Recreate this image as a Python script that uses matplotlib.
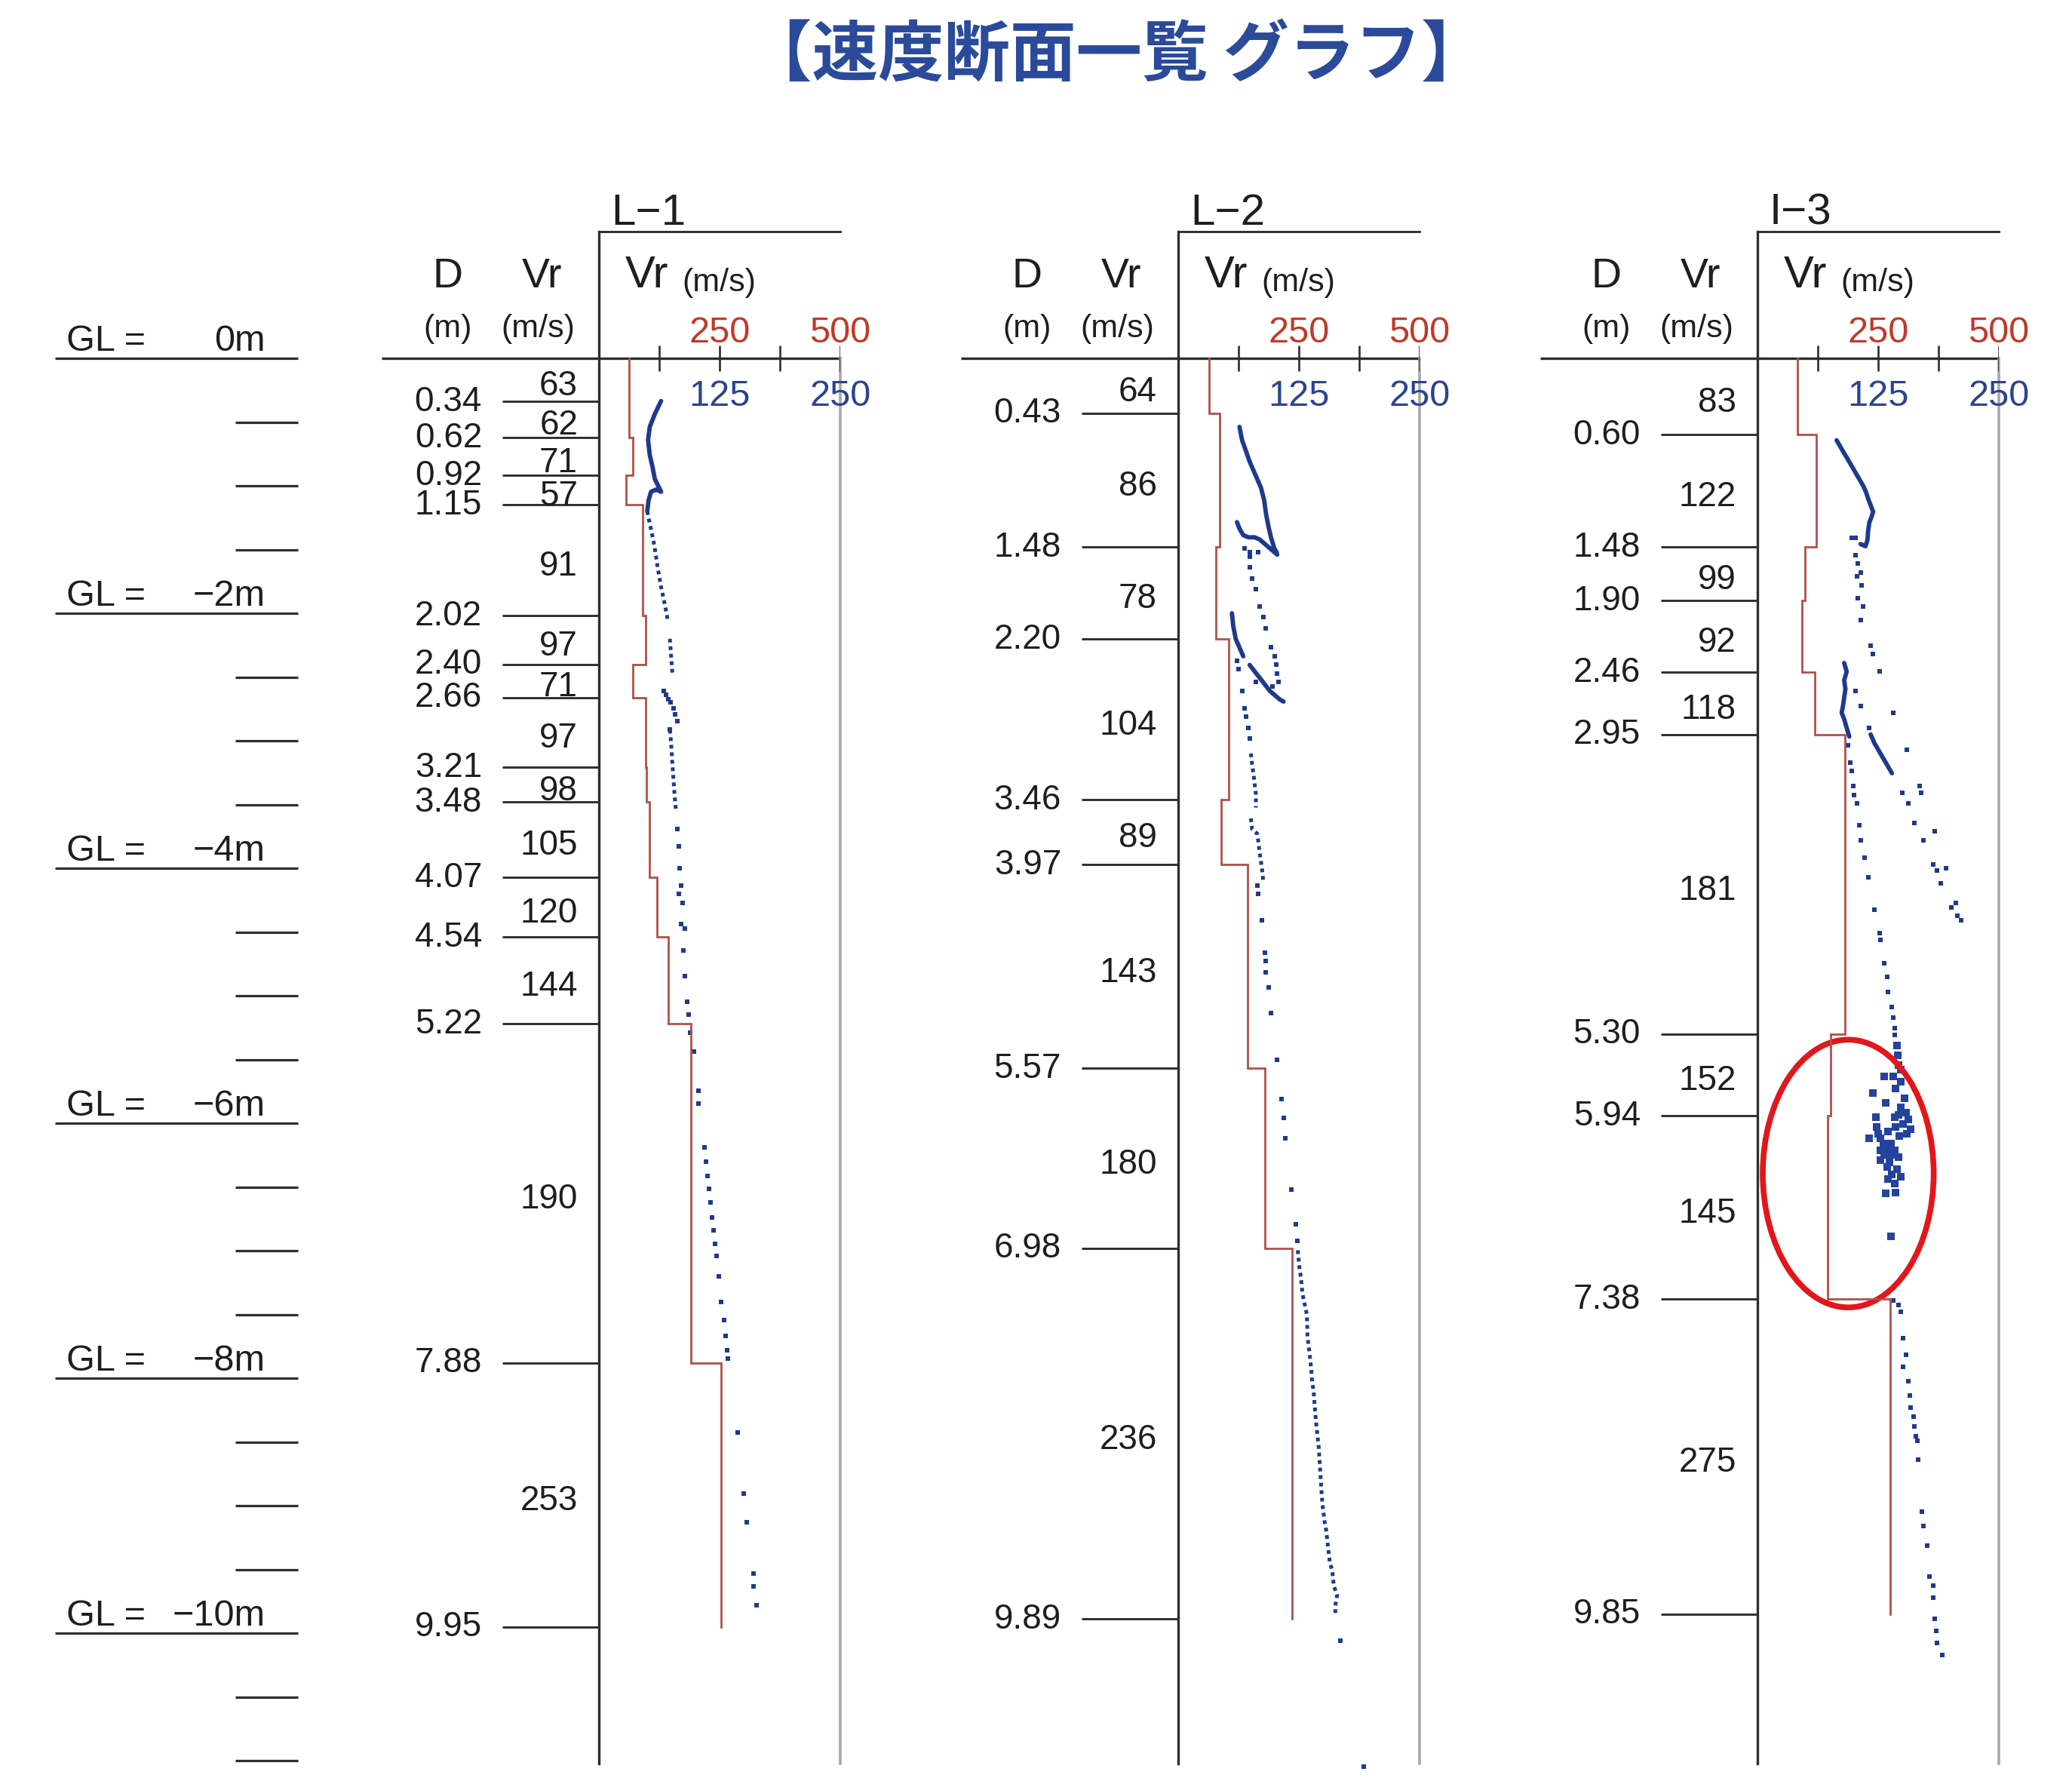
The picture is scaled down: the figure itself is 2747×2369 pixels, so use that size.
import numpy as np
import matplotlib
matplotlib.use('Agg')
import matplotlib.pyplot as plt
from matplotlib.patches import Ellipse

# ---------------- DATA ----------------
TITLE = '【速度断面一覧 グラフ】'
PANEL_NAMES = ['L−1', 'L−2', 'I−3']
GL_LEVELS = [0, -2, -4, -6, -8, -10]
GL_TICKS = [0.5, 1.0, 1.5, 2.5, 3.0, 3.5, 4.5, 5.0, 5.5, 6.5, 7.0, 7.5,
            8.5, 9.0, 9.5, 10.5, 11.0]
RED_TICK_LABELS = [250, 500]
BLUE_TICK_LABELS = [125, 250]
AXIS_TICKS = [62.5, 125, 187.5, 250]

# layer boundaries (m) and Vr (m/s)
L1_bounds = [0.00, 0.34, 0.62, 0.92, 1.15, 2.02, 2.40, 2.66, 3.21, 3.48, 4.07, 4.54, 5.22, 7.88, 9.95]
L1_vr = [63, 62, 71, 57, 91, 97, 71, 97, 98, 105, 120, 144, 190, 253]
L2_bounds = [0.00, 0.43, 1.48, 2.20, 3.46, 3.97, 5.57, 6.98, 9.89]
L2_vr = [64, 86, 78, 104, 89, 143, 180, 236]
I3_bounds = [0.00, 0.60, 1.48, 1.90, 2.46, 2.95, 5.30, 5.94, 7.38, 9.85]
I3_vr = [83, 122, 99, 92, 118, 181, 152, 145, 275]

# measured Vr points (blue, m/s) vs depth (m)
# --- L-1
L1_trace_v = [64.4, 57.9, 52.7, 50.9, 52.7, 55.3, 57.9, 64.4, 59.2, 54.0, 51.4, 50.1]
L1_trace_d = [0.335, 0.437, 0.538, 0.640, 0.759, 0.844, 0.946, 1.047, 1.03, 1.047, 1.115, 1.20]
L1_dense_v = [50.1, 51.4, 55.3, 57.9, 60.5, 64.4, 68.3, 71.6, np.nan, 73.5, 74.8, 76.1,
              np.nan, 73.5, 74.8, 76.1, 77.4, 78.7, 80.0]
L1_dense_d = [1.20, 1.25, 1.387, 1.489, 1.624, 1.794, 1.93, 2.065, np.nan, 2.20, 2.337, 2.47,
              np.nan, 2.914, 3.015, 3.185, 3.32, 3.456, 3.558]
L1_dot_v = [67.0, 69.5, 72.2, 74.0, 77.4, 79.0, 81.3, 73.5, 81.3, 82.6, 83.9, 85.1, 82.6, 86.4,
            85.1, 89.0, 87.8, 89.0, 91.6, 92.9, 94.2, 98.1, 103.3, 103.3, 109.0, 110.6,
            112.4, 113.7, 115.8, 116.8, 118.9, 120.2, 122.0, 124.1, 126.7, 129.3, 131.4,
            133.2, 133.7, 143.5, 150.1, 153.2, 159.9, 160.4, 163.5]
L1_dot_d = [2.61, 2.64, 2.676, 2.70, 2.744, 2.79, 2.846, 2.914, 3.694, 3.83, 4.0, 4.135, 4.203,
            4.27, 4.44, 4.474, 4.644, 4.847, 5.05, 5.15, 5.29, 5.435, 5.746, 5.844, 6.188,
            6.304, 6.413, 6.515, 6.623, 6.739, 6.84, 6.949, 7.04, 7.203, 7.40, 7.547, 7.667,
            7.783, 7.848, 8.428, 8.906, 9.131, 9.53, 9.631, 9.783]

# --- L-2
L2_trace_v = [63.5, 66.1, 70.1, 74.0, 77.9, 81.8, 85.7, 89.1, 90.9, 93.5, 96.1, 99.5, 102.1,
              np.nan, 60.9, 63.5, 67.4, 72.7, 79.2, 84.4, 89.6, 94.8, 100.0, 102.6,
              np.nan, 55.7, 57.0, 59.6, 63.5, 67.4,
              np.nan, 74.0, 79.2, 84.4, 89.6, 94.8, 100.0, 105.2, 109.1]
L2_trace_d = [0.538, 0.640, 0.725, 0.810, 0.878, 0.946, 1.014, 1.115, 1.217, 1.319, 1.404, 1.489, 1.523,
              np.nan, 1.285, 1.336, 1.387, 1.404, 1.404, 1.421, 1.455, 1.489, 1.523, 1.540,
              np.nan, 2.000, 2.099, 2.201, 2.269, 2.337,
              np.nan, 2.405, 2.456, 2.506, 2.557, 2.608, 2.642, 2.676, 2.693]
L2_dense_v = [75.3, 76.6, 77.9, 79.2, 80.5, 80.5, np.nan, 75.3, 76.6, 81.8, 83.1, 84.4, 85.7,
              87.0, 88.3, np.nan, 123.9, 125.5, 127.3, 128.6, 131.2, 133.3, 133.9, 136.5,
              137.8, 138.5, 140.4, 141.7, 143.0, 144.3, 145.6, 146.9, 147.6, 148.4, 149.5,
              151.6, 153.4, 154.7, 157.3, 159.4, 161.2, 164.6, 162.5, 163.0]
L2_dense_d = [3.100, 3.185, 3.253, 3.338, 3.423, 3.524, np.nan, 3.609, 3.694, 3.728, 3.796,
              3.881, 3.948, 4.016, 4.118, np.nan, 6.997, 7.128, 7.221, 7.333, 7.426, 7.501,
              7.669, 7.837, 7.930, 8.005, 8.117, 8.247, 8.359, 8.453, 8.546, 8.695, 8.788,
              8.882, 8.994, 9.124, 9.199, 9.292, 9.460, 9.498, 9.628, 9.703, 9.796, 9.852]
L2_dot_v = [68.8, 74.0, 83.1, 74.0, 74.0, 76.6, 80.5, 84.4, 88.3, 90.9, 96.1, 100.0, 101.3,
            102.6, 103.9, 60.9, 62.2, 80.5, 97.4, 66.1, 68.8, 70.1, 72.7, 74.0, 81.8, 83.1,
            86.5, 89.6, 90.9, 90.9, 93.5, 96.1, 102.6, 107.0, 109.1, 110.9, 117.4, 122.1,
            123.4, 167.7, 192.4]
L2_dot_d = [1.489, 1.523, 1.523, 1.556, 1.641, 1.726, 1.811, 1.947, 2.031, 2.116, 2.269, 2.337,
            2.405, 2.473, 2.540, 2.371, 2.439, 2.540, 2.574, 2.608, 2.744, 2.812, 2.897, 2.981,
            4.135, 4.203, 4.407, 4.661, 4.729, 4.814, 4.932, 5.136, 5.504, 5.810, 5.960, 6.120,
            6.519, 6.792, 6.922, 10.057, 11.046]

# --- I-3
I3_trace_v = [82.0, 85.9, 89.8, 93.8, 97.7, 101.6, 105.5, 109.4, 112.5, 114.6, 117.2, 119.8,
              118.5, 115.9, 114.6, 114.0, 111.9, 106.8,
              np.nan, 89.8, 92.4, 89.8, 91.1, 89.8, 88.5, 87.2, 89.8, 92.4, 95.1,
              np.nan, 117.2, 121.1, 125.0, 128.9, 132.8, 136.7, 139.3]
I3_trace_d = [0.643, 0.694, 0.745, 0.795, 0.846, 0.897, 0.948, 0.999, 1.050, 1.101, 1.152, 1.203,
              1.236, 1.287, 1.355, 1.423, 1.474, 1.457,
              np.nan, 2.390, 2.458, 2.526, 2.594, 2.662, 2.730, 2.780, 2.831, 2.899, 2.967,
              np.nan, 2.950, 3.018, 3.069, 3.120, 3.170, 3.221, 3.255]
I3_dot_v = [101.6, 97.7, 101.6, 104.2, 106.8, 102.9, 108.1, 104.2, 109.4, 106.8, 117.2, 119.8,
            126.3, 101.6, 106.8, 140.6, 115.9,
            154.9, 168.0, 169.3, 149.7, 156.2, 162.8, 171.9, 183.6, 182.3, 186.2, 195.3,
            190.1, 200.5, 205.7, 207.0, 210.9,
            93.8, 96.4, 97.7, 98.9, 100.3, 102.9, 105.5, 106.8, 110.7, 114.6, 121.1, 126.3,
            127.6, 131.5, 134.1, 135.4, 139.3, 140.6, 141.9, 141.9,
            140.6, 145.8, 148.4, 151.0, 153.6, 151.0, 156.2, 157.6, 158.9, 161.5, 162.8,
            164.1, 165.4, 166.2, 170.6, 171.9, 175.8, 178.4, 182.3, 182.3, 183.6, 184.9,
            186.2, 191.4]
I3_dot_d = [1.406, 1.406, 1.542, 1.610, 1.678, 1.712, 1.779, 1.881, 1.949, 2.051, 2.254, 2.322,
            2.458, 2.611, 2.730, 2.780, 2.899,
            3.069, 3.357, 3.408, 3.408, 3.493, 3.645, 3.781, 3.713, 3.968, 4.019, 4.002,
            4.121, 4.307, 4.273, 4.375, 4.409,
            3.035, 3.170, 3.238, 3.357, 3.425, 3.493, 3.662, 3.781, 3.917, 4.070, 4.324, 4.511,
            4.562, 4.748, 4.850, 4.969, 5.088, 5.172, 5.257, 5.308,
            7.389, 7.426, 7.482, 7.687, 7.818, 7.911, 8.023, 8.135, 8.229, 8.303, 8.378,
            8.453, 8.490, 8.639, 9.050, 9.162, 9.311, 9.554, 9.628, 9.722, 9.889, 9.983,
            10.076, 10.169]
I3_cluster_v = [144.5, 145.3, 146.3, 148.4, 131.5, 140.6, 148.4, 143.2, 119.8, 152.3, 132.8,
                148.4, 153.6, 145.8, 141.9, 156.2, 122.4, 151.0, 143.2, 158.9, 123.7, 154.9,
                125.0, 135.4, 147.1, 115.9, 127.6, 130.2, 138.0, 134.1, 127.6, 141.9, 131.5,
                138.0, 145.8, 127.6, 136.7, 134.1, 144.5, 139.3, 148.4, 135.4, 141.9, 132.8,
                143.2, 138.0]
I3_cluster_d = [5.392, 5.467, 5.542, 5.579, 5.635, 5.635, 5.672, 5.728, 5.766, 5.803, 5.840,
                5.877, 5.915, 5.933, 5.952, 5.971, 5.952, 6.008, 6.027, 6.045, 6.027, 6.083,
                6.083, 6.064, 6.101, 6.120, 6.120, 6.157, 6.157, 6.195, 6.213, 6.213, 6.251,
                6.251, 6.269, 6.288, 6.307, 6.344, 6.363, 6.400, 6.419, 6.437, 6.475, 6.549,
                6.542, 6.885]
# highlight ellipse (centre Vr, centre depth, width Vr, height m)
I3_ellipse = (94.0, 6.395, 177.0, 2.10)

# ---------------- LAYOUT / STYLE ----------------
W, H, DPI = 2747, 2369, 100
Y0, PPM = 475.0, 169.0          # pixel row of GL 0 and pixels per metre
AX_TOP, AX_BOT = 307, 2338
PANEL_X0 = [794, 1562, 2330]
PANEL_W = 320

LAT = ['Liberation Sans', 'DejaVu Sans']
CJK = ['Noto Sans CJK JP', 'DejaVu Sans']
BLACK = '#2e2e2e'
TXT = '#1e1e1e'
RED_LINE = '#b0504a'
RED_TXT = '#c0392b'
BLUE = '#1f3a8c'
BLUE_TXT = '#2b4391'
TITLE_C = '#2b4a9a'

plt.rcParams['font.family'] = LAT

fig = plt.figure(figsize=(W / DPI, H / DPI), dpi=DPI)
fig.patch.set_facecolor('white')

bg = fig.add_axes([0, 0, 1, 1])
bg.set_xlim(0, W)
bg.set_ylim((H - Y0) / PPM, -Y0 / PPM)
bg.axis('off')


def P(ypx):
    return (ypx - Y0) / PPM


# title
fig.text(1480 / W, 1 - 74 / H, TITLE, ha='center', va='center', fontsize=63,
         fontweight='bold', color=TITLE_C, family=CJK)

# GL column
for g in GL_LEVELS:
    d = -g
    bg.hlines(d, 73, 395, color=BLACK, lw=2.3)
    bg.text(88, d - 0.06, 'GL =', ha='left', va='baseline', fontsize=35, color=TXT)
    bg.text(352, d - 0.06, f'{g}m'.replace('-', '−'), ha='right', va='baseline',
            fontsize=35, color=TXT)
bg.hlines(GL_TICKS, 312, 395, color=BLACK, lw=2.3)


def step_xy(bounds, vr):
    xs, ys = [], []
    for i, v in enumerate(vr):
        xs += [v, v]
        ys += [bounds[i], bounds[i + 1]]
    return xs, ys


panels = [
    (L1_bounds, L1_vr, L1_trace_v, L1_trace_d, L1_dense_v, L1_dense_d, L1_dot_v, L1_dot_d),
    (L2_bounds, L2_vr, L2_trace_v, L2_trace_d, L2_dense_v, L2_dense_d, L2_dot_v, L2_dot_d),
    (I3_bounds, I3_vr, I3_trace_v, I3_trace_d, [], [], I3_dot_v, I3_dot_d),
]

for k, (bounds, vr, tv, td, dv, dd, pv, pd) in enumerate(panels):
    x0 = PANEL_X0[k]
    ax = fig.add_axes([x0 / W, 1 - AX_BOT / H, PANEL_W / W, (AX_BOT - AX_TOP) / H])
    ax.set_xlim(0, 250)
    ax.set_ylim(P(AX_BOT), P(AX_TOP))
    ax.patch.set_visible(False)
    for s in ['right', 'bottom']:
        ax.spines[s].set_visible(False)
    ax.spines['left'].set_color(BLACK)
    ax.spines['left'].set_linewidth(2.4)
    ax.spines['top'].set_color(BLACK)
    ax.spines['top'].set_linewidth(2.1)
    ax.set_xticks([])
    ax.set_yticks([])

    # right grey frame line and axis ticks
    ax.plot([250, 250], [0, P(AX_BOT)], color='#a8a8a8', lw=2.6, clip_on=False)
    ax.vlines(AXIS_TICKS, -0.1, 0.1, color=BLACK, lw=1.9)

    # red (layer) axis
    ax2 = ax.twiny()
    ax2.set_xlim(0, 500)
    ax2.set_ylim(P(AX_BOT), P(AX_TOP))
    ax2.axis('off')
    xs, ys = step_xy(bounds, vr)
    ax2.plot(xs, ys, color=RED_LINE, lw=2.0, solid_joinstyle='miter')

    # scale labels
    for t in RED_TICK_LABELS:
        ax2.text(t, P(437), str(t), ha='center', va='center_baseline', fontsize=35,
                 color=RED_TXT)
    for t in BLUE_TICK_LABELS:
        ax.text(t, P(521), str(t), ha='center', va='center_baseline', fontsize=35,
                color=BLUE_TXT)

    # measured points
    ax.plot(tv, td, color=BLUE, lw=4.2, solid_capstyle='round', clip_on=False)
    if len(dv):
        ax.plot(dv, dd, color=BLUE, lw=3.6, ls=(0, (1.0, 1.0)), clip_on=False)
    ax.plot(pv, pd, ls='none', marker='s', ms=4.6, mew=0, color=BLUE, clip_on=False)
    if k == 2:
        ax.plot(I3_cluster_v, I3_cluster_d, ls='none', marker='s', ms=7.5, mew=0,
                color='#24439c', clip_on=False)
        cx, cy, ew, eh = I3_ellipse
        ax.add_patch(Ellipse((cx, cy), ew, eh, fill=False, ec='#e3161b', lw=5.5,
                             clip_on=False, zorder=5))

    # panel headers
    bg.text(x0 + 16, P(277), PANEL_NAMES[k], ha='left', va='center_baseline', fontsize=42,
            color=TXT)
    bg.text(x0 + 35, P(381), 'Vr', ha='left', va='baseline', fontsize=43, color=TXT)
    bg.text(x0 + 110, P(386), '(m/s)', ha='left', va='baseline', fontsize=31, color=TXT)
    bg.text(x0 - 201, P(381), 'D', ha='center', va='baseline', fontsize=40, color=TXT)
    bg.text(x0 - 75, P(381), 'Vr', ha='center', va='baseline', fontsize=40, color=TXT)
    bg.text(x0 - 200, P(447), '(m)', ha='center', va='baseline', fontsize=31, color=TXT)
    bg.text(x0 - 81, P(447), '(m/s)', ha='center', va='baseline', fontsize=31, color=TXT)

    # ground axis line
    bg.hlines(0, x0 - 288, x0 + PANEL_W, color=BLACK, lw=2.4)

    # layer boundary lines and labels
    bg.hlines(bounds[1:], x0 - 128, x0, color=BLACK, lw=2.1)
    for b in bounds[1:]:
        bg.text(x0 - 155, b - 0.025, f'{b:.2f}', ha='right', va='center_baseline',
                fontsize=33, color=TXT)
    for i, v in enumerate(vr):
        mid = 0.5 * (bounds[i] + bounds[i + 1]) + 0.02
        bg.text(x0 - 28, mid, str(v), ha='right', va='center_baseline', fontsize=33,
                color=TXT)

fig.savefig('out.png', dpi=DPI, facecolor='white')
